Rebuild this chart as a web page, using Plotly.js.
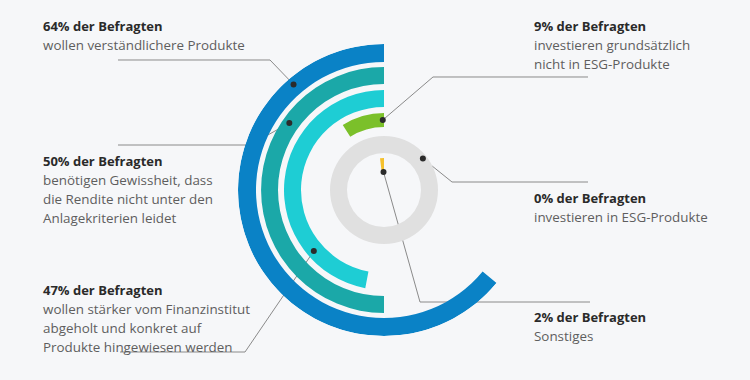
<!DOCTYPE html>
<html>
<head>
<meta charset="utf-8">
<script src="https://cdn.plot.ly/plotly-3.0.1.min.js"></script>
<style>
  html, body { margin: 0; padding: 0; background: #f6f7f9; }
  #chart { width: 750px; height: 380px; }
</style>
</head>
<body>
<div id="chart"></div>
<script>
// ---- data ----
const percents = [64, 50, 47, 9, 0, 2];
const headlines = [
  "64% der Befragten",
  "50% der Befragten",
  "47% der Befragten",
  "9% der Befragten",
  "0% der Befragten",
  "2% der Befragten"
];
const descriptions = [
  ["wollen verständlichere Produkte"],
  ["benötigen Gewissheit, dass", "die Rendite nicht unter den", "Anlagekriterien leidet"],
  ["wollen stärker vom Finanzinstitut", "abgeholt und konkret auf", "Produkte hingewiesen werden"],
  ["investieren grundsätzlich", "nicht in ESG-Produkte"],
  ["investieren in ESG-Produkte"],
  ["Sonstiges"]
];

// ---- styles / layout config ----
const colors = ["#0a82c6", "#1ba8a8", "#1ecdd4", "#7bc02a", "#e0e0e0", "#f5c12e"];
const ringInner = [128, 106, 83, 63, 37, 17];
const ringOuter = [146, 123, 100, 77, 54, 32];
const dotAngle = [40.6, 54.7, 131, 1, -51, 1.5];
const dotRadius = [139, 116, 93, 70, 50, 18];
const cx = 384, cy = 190, R = 146, W = 750, H = 380;

const textX = [41, 41, 41, 532, 532, 532];
const titleY = [26, 161, 290, 26, 198, 317];
const lineGap = 19;
const leaderStart = [[118, 60], [118, 145], [120, 352], [588, 77], [588, 182], [590, 302]];
const leaderElbow = [[270, 60], [250, 145], [245, 352], [433, 77], [452, 182], [420, 302]];

const traces = [];
percents.forEach((p, i) => {
  const isTrack = (p === 0);   // the 0% item is shown as an empty grey track ring
  const span = isTrack ? 360 : p * 3.6;
  traces.push({
    type: "barpolar",
    r: [ringOuter[i] - ringInner[i]],
    base: [ringInner[i]],
    theta: [span / 2],
    width: [span],
    marker: { color: colors[i], line: { width: 0 } },
    hoverinfo: "skip",
    showlegend: false
  });
});
// dots
traces.push({
  type: "scatterpolar",
  mode: "markers",
  r: dotRadius,
  theta: dotAngle,
  marker: { color: "#2b2b2b", size: 6 },
  hoverinfo: "skip",
  showlegend: false
});

function toPx(angleDeg, r) {
  const t = angleDeg * Math.PI / 180;
  return [cx - r * Math.sin(t), cy - r * Math.cos(t)];
}

const shapes = [];
percents.forEach((p, i) => {
  const d = toPx(dotAngle[i], dotRadius[i]);
  const pts = [leaderStart[i], leaderElbow[i], d];
  const path = pts.map((pt, k) => (k === 0 ? "M" : "L") + (pt[0] / W).toFixed(5) + "," + (1 - pt[1] / H).toFixed(5)).join(" ");
  shapes.push({
    type: "path", xref: "paper", yref: "paper", path: path,
    line: { color: "#8a8a8a", width: 1 }, layer: "below"
  });
});

const annotations = [];
percents.forEach((p, i) => {
  annotations.push({
    xref: "paper", yref: "paper", x: textX[i] / W, y: 1 - titleY[i] / H,
    xanchor: "left", yanchor: "middle", showarrow: false,
    text: "<b>" + headlines[i] + "</b>",
    font: { family: "Open Sans, sans-serif", size: 13, color: "#2a2a2a" }
  });
  descriptions[i].forEach((line, k) => {
    annotations.push({
      xref: "paper", yref: "paper", x: textX[i] / W, y: 1 - (titleY[i] + lineGap * (k + 1)) / H,
      xanchor: "left", yanchor: "middle", showarrow: false,
      text: line,
      font: { family: "Open Sans, sans-serif", size: 13.4, color: "#5e5e5e" }
    });
  });
});

const layout = {
  width: W, height: H,
  margin: { l: 0, r: 0, t: 0, b: 0 },
  paper_bgcolor: "#f6f7f9",
  plot_bgcolor: "#f6f7f9",
  showlegend: false,
  polar: {
    domain: { x: [(cx - R) / W, (cx + R) / W], y: [1 - (cy + R) / H, 1 - (cy - R) / H] },
    bgcolor: "rgba(0,0,0,0)",
    bargap: 0,
    radialaxis: { visible: false, range: [0, R] },
    angularaxis: { visible: false, direction: "counterclockwise", rotation: 90 }
  },
  shapes: shapes,
  annotations: annotations
};

Plotly.newPlot("chart", traces, layout, { staticPlot: true, displayModeBar: false });
</script>
</body>
</html>
